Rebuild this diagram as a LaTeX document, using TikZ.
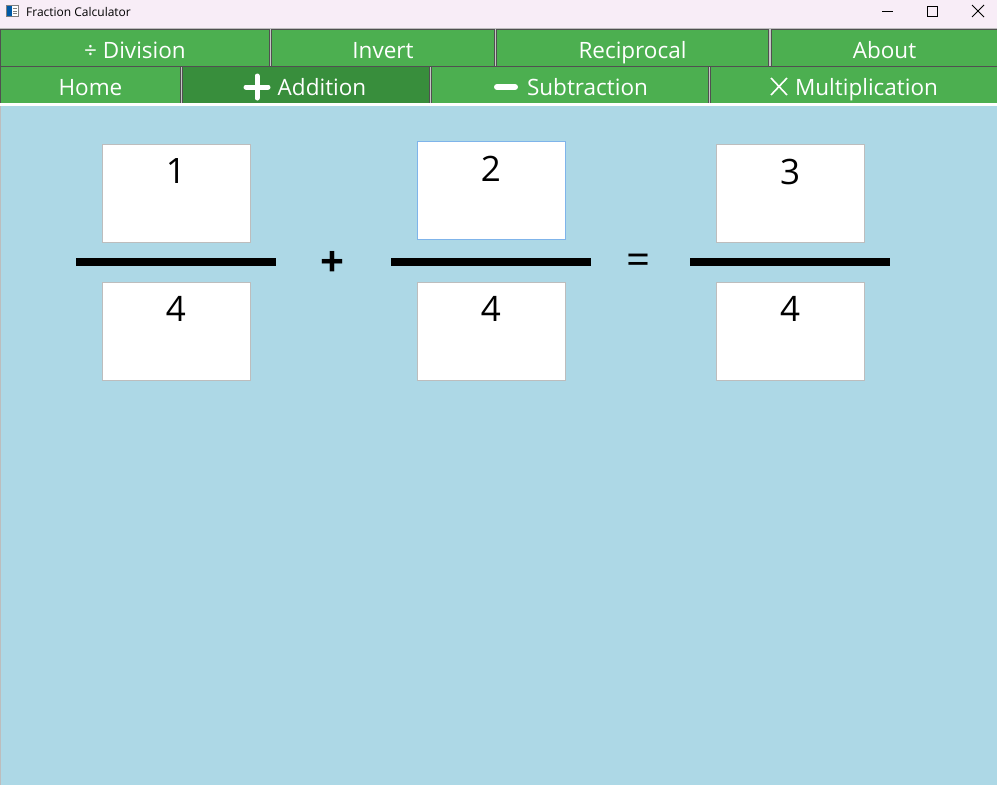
\documentclass[tikz,border=0pt]{standalone}
\usepackage{fontspec}
\setmainfont{Open Sans}
\usetikzlibrary{positioning}
\definecolor{titlebg}{HTML}{F8EDF7}
\definecolor{tabgreen}{HTML}{4CAF50}
\definecolor{tabdark}{HTML}{388E3C}
\definecolor{tabline}{HTML}{505050}
\definecolor{paneblue}{HTML}{ADD8E6}
\definecolor{boxline}{HTML}{BDBDBD}
\definecolor{focusline}{HTML}{7FB4EA}
\begin{document}
\begin{tikzpicture}[x=1pt,y=-1pt]
\tikzstyle{tab}=[draw=tabline,fill=tabgreen,line width=1,minimum height=37,inner sep=0,text height=23,text depth=2,text=white,font=\fontsize{22.5}{26}\selectfont]
\tikzstyle{numbox}=[draw=boxline,fill=white,line width=1,minimum width=148,minimum height=98,inner sep=0]
\tikzstyle{digit}=[inner sep=0,font=\fontsize{35}{40}\selectfont]
\tikzstyle{fracbar}=[fill=black,minimum width=200,minimum height=8,inner sep=0]
\tikzstyle{sign}=[inner sep=0,font=\fontsize{42}{46}\selectfont]
\tikzstyle{ctrl}=[line width=1,black]

\useasboundingbox (0,0) rectangle (997,785);

% title bar
\fill[titlebg] (0,0) rectangle (997,28);
\draw[line width=1,boxline] (0,28) -- (997,28);
\draw[line width=0.8,gray,fill=white] (6.5,5.5) rectangle (18.5,16.5);
\fill[teal!70!blue] (7,6) rectangle (11.5,16);
\foreach \y in {8.5,11,13.5}
  \draw[line width=0.8,gray] (13,\y) -- (17,\y);
\node[anchor=west,inner sep=0,font=\fontsize{12}{14}\selectfont] (title) at (26,12) {Fraction Calculator};
\draw[ctrl] (882,11) -- (893,11);
\draw[ctrl] (927.5,6.5) rectangle (937.5,16.5);
\draw[ctrl] (972,5) -- (984,17);
\draw[ctrl] (984,5) -- (972,17);

% tab strip
\fill[gray!45] (0,28.5) rectangle (997,103);
\node[tab,minimum width=269] (division) at (135,47.5) {÷ Division};
\node[tab,minimum width=223] (invert) at (383,47.5) {Invert};
\node[tab,minimum width=272] (reciprocal) at (632.5,47.5) {Reciprocal};
\node[tab,minimum width=227] (about) at (884.5,47.5) {About};
\node[tab,minimum width=180] (home) at (90.5,84.5) {Home};
\node[tab,minimum width=247,fill=tabdark] (addition) at (306,84.5) {\hspace{32pt}Addition};
\node[tab,minimum width=277] (subtraction) at (570,84.5) {\hspace{35pt}Subtraction};
\node[tab,minimum width=287] (multiplication) at (853.5,84.5) {\hspace{26pt}Multiplication};
\draw[white,line width=5,line cap=round] (246,87) -- (268,87) (257,76) -- (257,98);
\draw[white,line width=6,line cap=round] (497,87) -- (515,87);
\draw[white,line width=1.6] (771,78) -- (787,95) (787,78) -- (771,95);

% content pane
\fill[white] (0,103) rectangle (997,106);
\fill[paneblue] (0,106) rectangle (997,785);
\draw[line width=1,boxline] (0.5,106) -- (0.5,785);

% fractions
\node[fracbar] (bar1) at (176,262) {};
\node[fracbar] (bar2) at (491,262) {};
\node[fracbar] (bar3) at (790,262) {};

\node[numbox,above=15pt of bar1] (num1) {};
\node[numbox,below=16pt of bar1] (den1) {};
\node[numbox,above=18pt of bar2,draw=focusline] (num2) {};
\node[numbox,below=16pt of bar2] (den2) {};
\node[numbox,above=15pt of bar3] (num3) {};
\node[numbox,below=16pt of bar3] (den3) {};

\node[digit,below=15pt of num1.north] {1};
\node[digit,below=14pt of den1.north] {4};
\node[digit,below=15pt of num2.north] {2};
\node[digit,below=14pt of den2.north] {4};
\node[digit,below=15pt of num3.north] {3};
\node[digit,below=14pt of den3.north] {4};

\node[sign,font=\fontsize{42}{46}\selectfont\bfseries] (plus) at (332,264) {+};
\node[sign] (equals) at (639,264) {=};

\end{tikzpicture}
\end{document}
